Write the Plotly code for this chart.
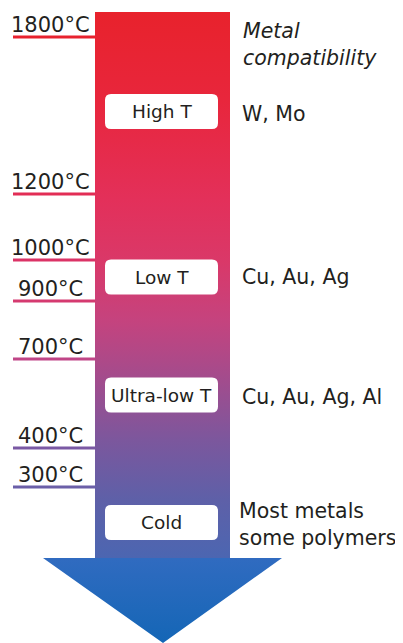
import plotly.graph_objects as go

# ---- data ----
temp_labels = ["1800°C", "1200°C", "1000°C", "900°C", "700°C", "400°C", "300°C"]
regime_labels = ["High T", "Low T", "Ultra-low T", "Cold"]
metal_labels = ["W, Mo", "Cu, Au, Ag", "Cu, Au, Ag, Al", "Most metals<br>some polymers"]
header_label = "<i>Metal<br>compatibility</i>"

# ---- schematic layout (pixel space of the 403x643 page) ----
temp_pos = [37, 194, 260, 301, 359, 448, 487]
temp_colors = ["#E8222E", "#E22D55", "#DB3366", "#D53A70", "#C04587", "#7A59A4", "#6B5FA8"]
regime_pos = [111.5, 277, 395, 522.5]
metal_pos = [114, 277, 397, 524]

PAGE_W, PAGE_H = 403, 643
OFF = 8  # default body margin of the html page
FONT = "DejaVu Sans"
TXT = "#231F20"

fig = go.Figure()

# arrow body with vertical gradient
arrow_x = [95, 230, 230, 282, 163, 43, 95, 95]
arrow_y = [12, 12, 558, 558, 643, 558, 558, 12]
s = lambda y: (y - 12) / (643 - 12)
fig.add_trace(go.Scatter(
    x=arrow_x, y=arrow_y, mode="lines", fill="toself",
    line=dict(width=0, color="rgba(0,0,0,0)"),
    fillgradient=dict(
        type="vertical", start=12, stop=643,
        colorscale=[
            [0.0, "#E8222C"],
            [s(100), "#E8263C"],
            [s(200), "#E3305A"],
            [s(260), "#DA3868"],
            [s(320), "#C5437E"],
            [s(380), "#A24C8D"],
            [s(440), "#7C579D"],
            [s(500), "#5E60A8"],
            [s(557.5), "#4C66B1"],
            [s(558.5), "#306BC0"],
            [1.0, "#1466B6"],
        ]),
    hoverinfo="skip", showlegend=False))

# temperature tick lines
for lab, y, c in zip(temp_labels, temp_pos, temp_colors):
    fig.add_trace(go.Scatter(x=[13, 95], y=[y, y], mode="lines",
                             line=dict(color=c, width=3),
                             hoverinfo="skip", showlegend=False))
    fig.add_annotation(x=50, y=y - 12.5, text=lab, showarrow=False,
                       xanchor="center", yanchor="middle",
                       font=dict(family=FONT, size=21, color=TXT))

# rounded white boxes with regime labels
def rounded(x0, y0, x1, y1, r):
    return (f"M{x0+r},{y0} L{x1-r},{y0} Q{x1},{y0} {x1},{y0+r} "
            f"L{x1},{y1-r} Q{x1},{y1} {x1-r},{y1} L{x0+r},{y1} "
            f"Q{x0},{y1} {x0},{y1-r} L{x0},{y0+r} Q{x0},{y0} {x0+r},{y0} Z")

for lab, y in zip(regime_labels, regime_pos):
    fig.add_shape(type="path", path=rounded(105, y - 17.5, 218, y + 17.5, 6),
                  fillcolor="white", line=dict(width=0), layer="above")
    fig.add_annotation(x=161.5, y=y, text=lab, showarrow=False,
                       xanchor="center", yanchor="middle",
                       font=dict(family=FONT, size=18.5, color=TXT))

# metal compatibility
fig.add_annotation(x=241, y=44, text=header_label, showarrow=False,
                   xanchor="left", yanchor="middle", align="left",
                   font=dict(family=FONT, size=20.5, color=TXT))
for lab, y in zip(metal_labels, metal_pos):
    fig.add_annotation(x=237 if "<br>" in lab else 240, y=y, text=lab,
                       showarrow=False, xanchor="left", yanchor="middle",
                       align="left", font=dict(family=FONT, size=20.5, color=TXT))

fig.update_layout(
    width=PAGE_W - OFF, height=PAGE_H - OFF,
    margin=dict(l=0, r=0, t=0, b=0),
    paper_bgcolor="white", plot_bgcolor="white",
    xaxis=dict(range=[OFF, PAGE_W], visible=False, fixedrange=True),
    yaxis=dict(range=[PAGE_H, OFF], visible=False, fixedrange=True),
    showlegend=False,
)
fig.write_html("out.html")
